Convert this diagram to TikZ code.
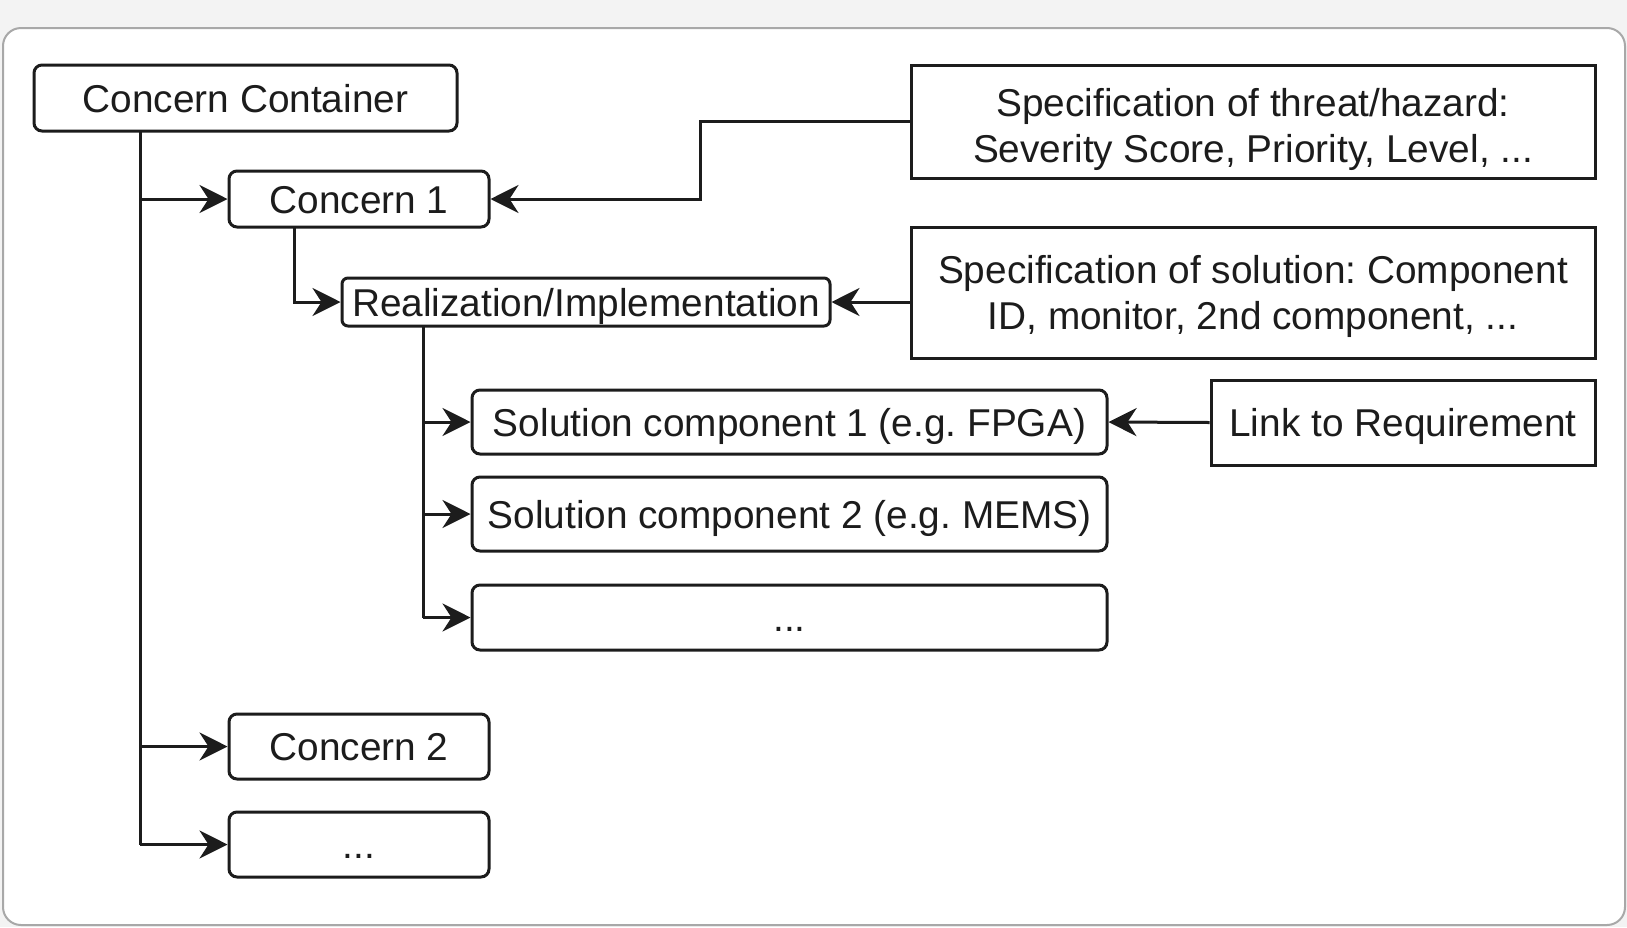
\documentclass[tikz,border=0pt]{standalone}
\usepackage{fontspec}
\setmainfont{Liberation Sans}
\usetikzlibrary{arrows.meta}
\frenchspacing
\definecolor{bgc}{HTML}{F3F3F3}
\definecolor{framec}{HTML}{A8A8A8}
\definecolor{ink}{HTML}{1C1C1C}
\tikzset{
  rbox/.style={draw=ink, line width=3pt, rounded corners=8pt, fill=white, inner sep=0pt, align=center, text=ink, text height=28pt, text depth=0pt},
  sbox/.style={draw=ink, line width=3pt, fill=white, inner sep=0pt, align=center, text=ink},
  conn/.style={draw=ink, line width=3pt, -{Stealth[length=28pt,width=28pt,inset=9pt]}},
  plain/.style={draw=ink, line width=3pt}
}
\begin{document}
\begin{tikzpicture}[x=1pt,y=-1pt]
\fontsize{38.8}{45.5}\selectfont
\frenchspacing
\useasboundingbox (0,0) rectangle (1627,927);
\fill[bgc] (0,0) rectangle (1627,927);
\draw[framec, line width=2pt, fill=white, rounded corners=18pt] (3,28) rectangle (1625,925);

\node[rbox, minimum width=423pt, minimum height=66pt] (cc) at (245.5,98) {Concern Container};
\node[rbox, minimum width=260pt, minimum height=56pt] (c1) at (359,199) {Concern 1};
\node[rbox, minimum width=488pt, minimum height=48pt, rounded corners=6pt] (real) at (586,302) {Realization/Implementation};
\node[sbox, minimum width=684pt, minimum height=113pt, text height=81pt, text depth=0pt] (spec1) at (1253,121.5) {Specification of threat/hazard:\\Severity Score, Priority, Level, ...};
\node[sbox, minimum width=684pt, minimum height=131pt, text height=73pt, text depth=0pt] (spec2) at (1253,292.5) {Specification of solution: Component\\ID, monitor, 2nd component, ...};
\node[sbox, minimum width=384pt, minimum height=85pt, text height=28pt, text depth=0pt] (link) at (1403,422.5) {Link to Requirement};
\node[rbox, minimum width=635pt, minimum height=64pt] (s1) at (789.5,422) {Solution component 1 (e.g. FPGA)};
\node[rbox, minimum width=635pt, minimum height=74pt] (s2) at (789.5,514) {Solution component 2 (e.g. MEMS)};
\node[rbox, minimum width=635pt, minimum height=65pt] (s3) at (789.5,617.5) {...};
\node[rbox, minimum width=260pt, minimum height=65pt] (c2) at (359,746.5) {Concern 2};
\node[rbox, minimum width=260pt, minimum height=65pt] (c3) at (359,844.5) {...};

% main trunk
\coordinate (t0) at (140,131);
\coordinate (t1) at (140,844.5);
\draw[plain] (t0) -- (t1);
\draw[conn] (t0 |- c1.west) -- (c1.west);
\draw[conn] (t0 |- c2.west) -- (c2.west);
\draw[conn] (t1) -- (c3.west);

% concern 1 to realization
\coordinate (r0) at (294,227);
\draw[conn] (r0) |- (real.west);

% realization trunk
\coordinate (u0) at (423,326);
\coordinate (u1) at (423,617.5);
\draw[plain] (u0) -- (u1);
\draw[conn] (u0 |- s1.west) -- (s1.west);
\draw[conn] (u0 |- s2.west) -- (s2.west);
\draw[conn] (u1) -- (s3.west);

% specification connectors
\coordinate (k1) at (700,121.5);
\draw[conn] (spec1.west) -- (k1) |- (c1.east);
\draw[conn] (spec2.west |- real.east) -- (real.east);
\draw[conn] (link.west) -- (s1.east);
\end{tikzpicture}
\end{document}
